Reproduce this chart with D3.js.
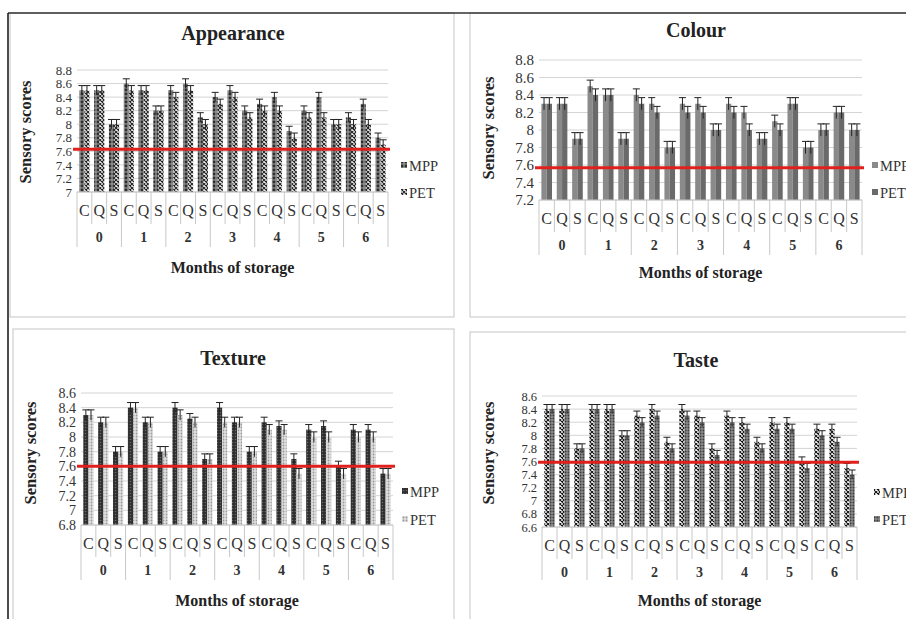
<!DOCTYPE html>
<html>
<head>
<meta charset="utf-8">
<script src="https://cdn.jsdelivr.net/npm/d3@7"></script>
<style>
  html, body { margin: 0; padding: 0; background: #fff; }
  svg { display: block; font-family: "Liberation Serif", "Times New Roman", serif; }
</style>
</head>
<body>
<svg id="chart" width="906" height="619"></svg>
<script>
// --- data ---
const months = ['0', '1', '2', '3', '4', '5', '6'];
const subcats = ['C', 'Q', 'S'];
const seriesNames = ['MPP', 'PET'];

const appearanceMPP = [8.5, 8.5, 8.0, 8.6, 8.5, 8.2, 8.5, 8.6, 8.1, 8.4, 8.5, 8.2, 8.3, 8.4, 7.9, 8.2, 8.4, 8.0, 8.1, 8.3, 7.8];
const appearancePET = [8.5, 8.5, 8.0, 8.5, 8.5, 8.2, 8.4, 8.5, 8.0, 8.3, 8.4, 8.1, 8.2, 8.2, 7.8, 8.1, 8.1, 8.0, 8.0, 8.0, 7.7];

const colourMPP = [8.3, 8.3, 7.9, 8.5, 8.4, 7.9, 8.4, 8.3, 7.8, 8.3, 8.3, 8.0, 8.3, 8.2, 7.9, 8.1, 8.3, 7.8, 8.0, 8.2, 8.0];
const colourPET = [8.3, 8.3, 7.9, 8.4, 8.4, 7.9, 8.3, 8.2, 7.8, 8.2, 8.2, 8.0, 8.2, 8.0, 7.9, 8.0, 8.3, 7.8, 8.0, 8.2, 8.0];

const textureMPP = [8.3, 8.2, 7.8, 8.4, 8.2, 7.8, 8.4, 8.25, 7.7, 8.4, 8.2, 7.8, 8.2, 8.15, 7.7, 8.1, 8.15, 7.6, 8.1, 8.1, 7.5];
const texturePET = [8.3, 8.2, 7.8, 8.4, 8.2, 7.8, 8.3, 8.2, 7.7, 8.2, 8.2, 7.8, 8.1, 8.1, 7.5, 8.0, 8.0, 7.5, 8.0, 8.0, 7.5];

const tasteMPP = [8.4, 8.4, 7.8, 8.4, 8.4, 8.0, 8.3, 8.4, 7.9, 8.4, 8.3, 7.8, 8.3, 8.2, 7.9, 8.2, 8.2, 7.6, 8.1, 8.1, 7.5];
const tastePET = [8.4, 8.4, 7.8, 8.4, 8.4, 8.0, 8.2, 8.3, 7.8, 8.3, 8.2, 7.7, 8.2, 8.1, 7.8, 8.1, 8.1, 7.5, 8.0, 7.9, 7.4];

const errorBar = 0.07;

const svg = d3.select('#chart');
const defs = svg.append('defs');

// fill patterns (approximating the excel textures)
function dotPattern(id, bg, dot, r, size) {
    const p = defs.append('pattern').attr('id', id)
        .attr('patternUnits', 'userSpaceOnUse').attr('width', size).attr('height', size);
    p.append('rect').attr('width', size).attr('height', size).attr('fill', bg);
    p.append('circle').attr('cx', size / 2).attr('cy', size / 2).attr('r', r).attr('fill', dot);
}
function crossPattern(id, bg, fg, size) {
    const p = defs.append('pattern').attr('id', id)
        .attr('patternUnits', 'userSpaceOnUse').attr('width', size).attr('height', size);
    p.append('rect').attr('width', size).attr('height', size).attr('fill', bg);
    p.append('path').attr('d', `M0,0L${size},${size}M${size},0L0,${size}`)
        .attr('stroke', fg).attr('stroke-width', 1.1);
}
dotPattern('appMPP', '#8a8a8a', '#2e2e2e', 1.4, 4);
crossPattern('appPET', '#eeeeee', '#222', 4);
dotPattern('texMPP', '#2e2e2e', '#6a6a6a', 0.8, 3);
dotPattern('texPET', '#e0e0e0', '#9a9a9a', 0.9, 3);
crossPattern('tasMPP', '#fff', '#111', 4);
dotPattern('tasPET', '#8a8a8a', '#3c3c3c', 1.0, 3);

// outer frame and panel frames
const frames = [
    [10, 13, 444, 304], [470, 13, 440, 304],
    [13, 329, 441, 295], [470, 332, 440, 292]
];
svg.selectAll('rect.frame').data(frames).enter().append('rect')
    .attr('class', 'frame')
    .attr('x', d => d[0]).attr('y', d => d[1])
    .attr('width', d => d[2]).attr('height', d => d[3])
    .attr('fill', 'none').attr('stroke', '#cfcfcf').attr('stroke-width', 1.2);
svg.append('line').attr('x1', 8).attr('x2', 906).attr('y1', 13).attr('y2', 13)
    .attr('stroke', '#333').attr('stroke-width', 1.5);
svg.append('line').attr('x1', 8).attr('x2', 8).attr('y1', 13).attr('y2', 619)
    .attr('stroke', '#111').attr('stroke-width', 1.5);

const panels = [
    { title: 'Appearance', mpp: appearanceMPP, pet: appearancePET, fills: ['url(#appMPP)', 'url(#appPET)'],
      domain: [7, 8.8], x0: 77, x1: 388, yTop: 70, yBot: 192, limit: 7.63, tickSize: 13,
      titleX: 233, titleY: 40, ylabX: 25, ylabY: 132, legX: 401, legY: [166, 193], catY: 216, monY: 242, lineEnd: 247, xlabY: 273 },
    { title: 'Colour', mpp: colourMPP, pet: colourPET, fills: ['#8a8a8a', '#6a6a6a'],
      domain: [7.2, 8.8], x0: 539, x1: 862, yTop: 60, yBot: 200, limit: 7.57, tickSize: 15,
      titleX: 696, titleY: 37, ylabX: 488, ylabY: 128, legX: 872, legY: [166, 193], catY: 224, monY: 250, lineEnd: 255, xlabY: 278 },
    { title: 'Texture', mpp: textureMPP, pet: texturePET, fills: ['url(#texMPP)', 'url(#texPET)'],
      domain: [6.8, 8.6], x0: 81, x1: 393, yTop: 393, yBot: 525, limit: 7.6, tickSize: 14,
      titleX: 233, titleY: 365, ylabX: 30, ylabY: 453, legX: 402, legY: [492, 520], catY: 549, monY: 575, lineEnd: 580, xlabY: 606 },
    { title: 'Taste', mpp: tasteMPP, pet: tastePET, fills: ['url(#tasMPP)', 'url(#tasPET)'],
      domain: [6.6, 8.6], x0: 542, x1: 857, yTop: 396, yBot: 527, limit: 7.59, tickSize: 12.5,
      titleX: 696, titleY: 367, ylabX: 488, ylabY: 453, legX: 874, legY: [493, 520], catY: 551, monY: 577, lineEnd: 580, xlabY: 606 }
];

panels.forEach(drawPanel);

function drawPanel(p) {
    const g = svg.append('g');
    const keys = [];
    months.forEach(m => subcats.forEach(s => keys.push(m + s)));

    const x = d3.scaleBand().domain(keys).range([p.x0, p.x1]).paddingInner(0).paddingOuter(0);
    const x1 = d3.scaleBand().domain(seriesNames).range([0, x.bandwidth()]).paddingOuter(0.45).paddingInner(0);
    const y = d3.scaleLinear().domain(p.domain).range([p.yBot, p.yTop]);
    const ticks = d3.range(p.domain[0], p.domain[1] + 0.01, 0.2).map(v => +v.toFixed(1));

    // gridlines
    g.append('g').selectAll('line').data(ticks).enter().append('line')
        .attr('x1', p.x0).attr('x2', p.x1)
        .attr('y1', d => y(d)).attr('y2', d => y(d))
        .attr('stroke', '#d4d4d4').attr('stroke-width', 1);

    // y axis labels
    const yAxis = d3.axisLeft(y).tickValues(ticks).tickSize(0).tickPadding(5)
        .tickFormat(d => String(+d.toFixed(1)));
    g.append('g').attr('transform', `translate(${p.x0},0)`).call(yAxis)
        .call(a => a.select('.domain').remove())
        .selectAll('text').attr('font-family', '"Liberation Serif", serif')
        .attr('font-size', p.tickSize).attr('fill', '#333');

    // bars
    const series = [p.mpp, p.pet];
    series.forEach((vals, si) => {
        const bw = x1.bandwidth();
        g.append('g').selectAll('rect').data(vals).enter().append('rect')
            .attr('x', (d, i) => x(keys[i]) + x1(seriesNames[si]))
            .attr('y', d => y(d))
            .attr('width', bw)
            .attr('height', d => p.yBot - y(d))
            .attr('fill', p.fills[si]);
    });

    // error bars
    series.forEach((vals, si) => {
        const cx = i => x(keys[i]) + x1(seriesNames[si]) + x1.bandwidth() / 2;
        const eg = g.append('g').attr('stroke', '#222').attr('stroke-width', 1);
        eg.selectAll('line.v').data(vals).enter().append('line')
            .attr('x1', (d, i) => cx(i)).attr('x2', (d, i) => cx(i))
            .attr('y1', d => y(d - errorBar)).attr('y2', d => y(d + errorBar));
        eg.selectAll('line.c').data(vals).enter().append('line')
            .attr('x1', (d, i) => cx(i) - 3.5).attr('x2', (d, i) => cx(i) + 3.5)
            .attr('y1', d => y(d + errorBar)).attr('y2', d => y(d + errorBar));
    });

    // category table on x axis
    const sepX = d3.range(keys.length + 1).map(i => p.x0 + i * x.step());
    g.append('line').attr('x1', p.x0).attr('x2', p.x1).attr('y1', p.yBot).attr('y2', p.yBot)
        .attr('stroke', '#c8c8c8');
    g.append('g').selectAll('line').data(sepX).enter().append('line')
        .attr('x1', d => d).attr('x2', d => d)
        .attr('y1', p.yBot)
        .attr('y2', (d, i) => i % 3 === 0 ? p.lineEnd : p.catY + 8)
        .attr('stroke', '#c8c8c8');
    g.append('g').selectAll('text').data(keys).enter().append('text')
        .attr('x', d => x(d) + x.bandwidth() / 2).attr('y', p.catY)
        .attr('text-anchor', 'middle').attr('font-size', 16).attr('fill', '#333')
        .text(d => d.slice(1));
    g.append('g').selectAll('text').data(months).enter().append('text')
        .attr('x', (d, i) => p.x0 + (i * 3 + 1.5) * x.step()).attr('y', p.monY)
        .attr('text-anchor', 'middle').attr('font-size', 14).attr('font-weight', 'bold').attr('fill', '#333')
        .text(d => d);

    // acceptability limit
    g.append('line').attr('x1', p.x0 - 4).attr('x2', p.x1 + 2)
        .attr('y1', y(p.limit)).attr('y2', y(p.limit))
        .attr('stroke', '#e0201c').attr('stroke-width', 3);

    // titles
    g.append('text').attr('x', p.titleX).attr('y', p.titleY).attr('text-anchor', 'middle')
        .attr('font-size', 20).attr('font-weight', 'bold').attr('fill', '#222').text(p.title);
    g.append('text').attr('transform', `translate(${p.ylabX + 6},${p.ylabY}) rotate(-90)`)
        .attr('text-anchor', 'middle').attr('font-size', 16.5).attr('font-weight', 'bold').attr('fill', '#222')
        .text('Sensory scores');
    g.append('text').attr('x', (p.x0 + p.x1) / 2).attr('y', p.xlabY).attr('text-anchor', 'middle')
        .attr('font-size', 16).attr('font-weight', 'bold').attr('fill', '#222').text('Months of storage');

    // legend
    seriesNames.forEach((name, si) => {
        g.append('rect').attr('x', p.legX).attr('y', p.legY[si] - 4).attr('width', 6).attr('height', 6)
            .attr('fill', p.fills[si]);
        g.append('text').attr('x', p.legX + 8).attr('y', p.legY[si] + 5)
            .attr('font-size', 14.5).attr('fill', '#333').text(name);
    });
}
</script>
</body>
</html>
